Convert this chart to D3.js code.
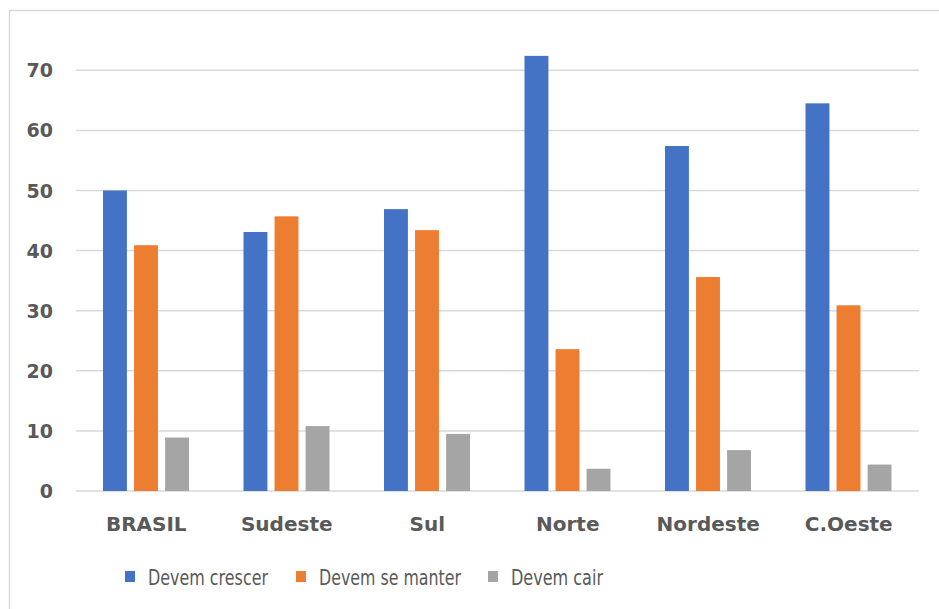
<!DOCTYPE html>
<html>
<head>
<meta charset="utf-8">
<script src="https://cdn.jsdelivr.net/npm/d3@7"></script>
<style>
  body { margin: 0; background: #fff; }
  text { font-family: "Century Gothic", "DejaVu Sans", sans-serif; fill: #595959; }
</style>
</head>
<body>
<svg id="chart" width="939" height="609"></svg>
<script>
// categories and series
const regions = ['BRASIL', 'Sudeste', 'Sul', 'Norte', 'Nordeste', 'C.Oeste'];
const seriesNames = ['Devem crescer', 'Devem se manter', 'Devem cair'];
const crescer = [50.0, 43.1, 46.9, 72.4, 57.4, 64.5];
const manter  = [40.9, 45.7, 43.4, 23.6, 35.6, 30.9];
const cair    = [8.9, 10.8, 9.5, 3.7, 6.8, 4.4];
const yTicks = [0, 10, 20, 30, 40, 50, 60, 70];
const colors = ['#4472c4', '#ed7d31', '#a5a5a5'];

const series = [crescer, manter, cair];

const svg = d3.select('#chart');

// outer frame
svg.append('rect')
  .attr('x', 9.5).attr('y', 10.5)
  .attr('width', 935).attr('height', 605)
  .attr('fill', 'none')
  .attr('stroke', '#d9d9d9')
  .attr('stroke-width', 1.5);

const x0 = d3.scaleBand().domain(regions).range([76, 919]);
// 3 bars of ~24px with ~7px gaps inside each 140px band
const x1 = d3.scaleBand().domain(d3.range(3)).range([27, 113]).paddingInner(0.23);
const y = d3.scaleLinear().domain([0, 70]).range([491, 70.3]);

// gridlines
svg.append('g')
  .selectAll('line')
  .data(yTicks)
  .join('line')
  .attr('x1', 76).attr('x2', 919)
  .attr('y1', d => y(d)).attr('y2', d => y(d))
  .attr('stroke', '#d9d9d9')
  .attr('stroke-width', 1.5);

// y labels
svg.append('g')
  .selectAll('text')
  .data(yTicks)
  .join('text')
  .attr('x', 53)
  .attr('y', d => y(d) + 7)
  .attr('text-anchor', 'end')
  .attr('font-size', 19)
  .attr('font-weight', 'bold')
  .text(d => d);

// bars
const groups = svg.append('g')
  .selectAll('g')
  .data(regions)
  .join('g')
  .attr('transform', d => `translate(${x0(d)},0)`);

groups.selectAll('rect')
  .data((d, i) => series.map((s, k) => ({ k, v: s[i] })))
  .join('rect')
  .attr('x', d => x1(d.k))
  .attr('width', x1.bandwidth())
  .attr('y', d => y(d.v))
  .attr('height', d => y(0) - y(d.v))
  .attr('fill', d => colors[d.k]);

// category labels
svg.append('g')
  .selectAll('text')
  .data(regions)
  .join('text')
  .attr('x', d => x0(d) + x0.bandwidth() / 2)
  .attr('y', 531)
  .attr('text-anchor', 'middle')
  .attr('font-size', 20)
  .attr('font-weight', 'bold')
  .text(d => d);

// legend
const legendX = [125, 296, 488];
const legendW = [120, 142, 92];
const legend = svg.append('g')
  .selectAll('g')
  .data(seriesNames)
  .join('g')
  .attr('transform', (d, i) => `translate(${legendX[i]},0)`);

legend.append('rect')
  .attr('x', 0).attr('y', 571)
  .attr('width', 10).attr('height', 11)
  .attr('fill', (d, i) => colors[i]);

legend.append('text')
  .attr('x', 23).attr('y', 585)
  .attr('font-size', 21)
  .attr('textLength', (d, i) => legendW[i])
  .attr('lengthAdjust', 'spacingAndGlyphs')
  .text(d => d);
</script>
</body>
</html>
